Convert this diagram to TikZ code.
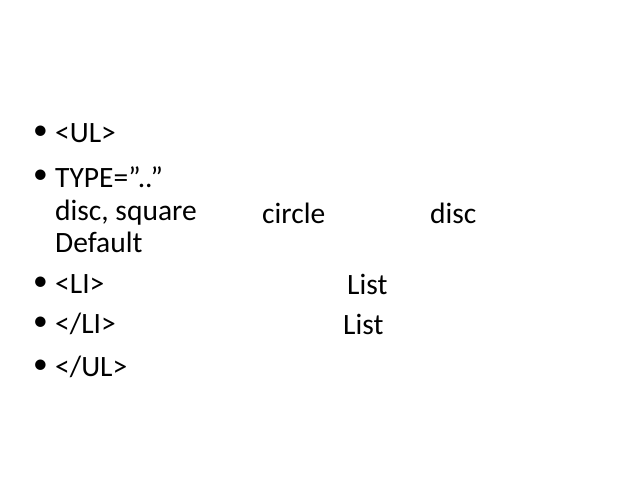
\documentclass[tikz,border=0pt]{standalone}
\usepackage{fontspec}
\setmainfont{Carlito}
\tikzset{
  item/.style={anchor=west, inner sep=0pt, font=\fontsize{29.5}{34}\selectfont},
  dot/.style={anchor=west, inner sep=0pt, font=\fontsize{29.5}{34}\selectfont}
}
\begin{document}
\begin{tikzpicture}[x=1pt,y=1pt]
\useasboundingbox (0,0) rectangle (638,479);
% bullets
\foreach \y/\n in {346/a,302/b,195/c,155/d,112/e}
  \node[dot] (dot\n) at (33,\y) {•};
\node[item] (ul)      at (55,346) {<UL>};
\node[item] (type)    at (55,302) {TYPE=\symbol{34}..\symbol{34}};
\node[item] (shapes)  at (55,266) {disc, square};
\node[item] (circle)  at (262,266) {circle};
\node[item] (disc)    at (430,266) {disc};
\node[item] (default) at (55,237) {Default};
\node[item] (li)      at (55,195) {<LI>};
\node[item] (list)    at (347,195) {List};
\node[item] (endli)   at (55,155) {</LI>};
\node[item] (list2)   at (343,155) {List};
\node[item] (endul)   at (55,112) {</UL>};
\end{tikzpicture}
\end{document}
